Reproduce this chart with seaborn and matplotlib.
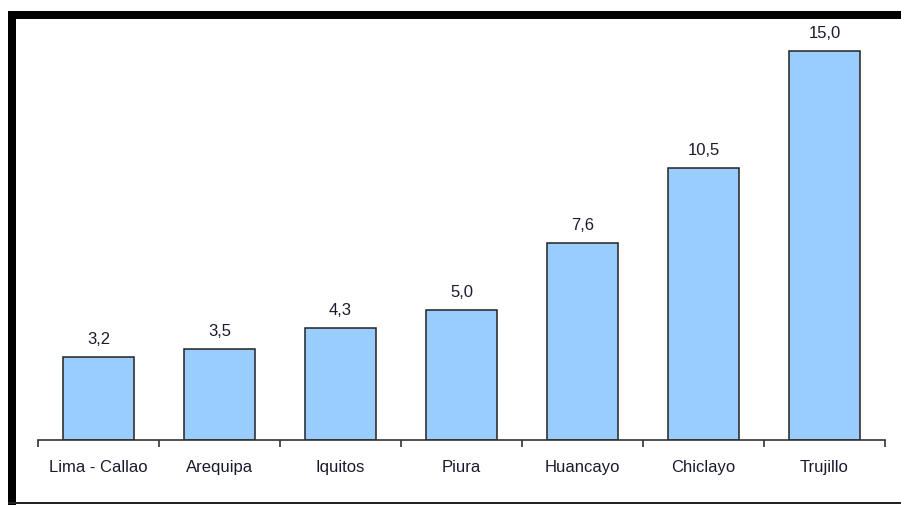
import matplotlib
matplotlib.use("Agg")
import matplotlib.pyplot as plt
from matplotlib.patches import Rectangle
from matplotlib.ticker import FixedLocator
import seaborn as sns
import pandas as pd

cities = ["Lima - Callao", "Arequipa", "Iquitos", "Piura", "Huancayo", "Chiclayo", "Trujillo"]
values = [3.2, 3.5, 4.3, 5.0, 7.6, 10.5, 15.0]

sns.set_theme(style="white")
plt.rcParams["font.family"] = ["Liberation Sans Narrow", "Liberation Sans", "DejaVu Sans"]

df = pd.DataFrame({"city": cities, "value": values})

fig = plt.figure(figsize=(9.01, 5.06), dpi=100)
fig.patch.set_facecolor("white")
ax = fig.add_axes([38 / 901, 65 / 506, (885 - 38) / 901, 415 / 506])

sns.barplot(data=df, x="city", y="value", color="#99CCFF", width=0.595,
            saturation=1, edgecolor="#222222", linewidth=1.1, ax=ax)

ax.set_xlim(-0.5, len(cities) - 0.5)
ax.set_ylim(0, 16)

# value labels above each bar
for i, v in enumerate(values):
    ax.annotate(f"{v:.1f}".replace(".", ","), (i, v), xytext=(0, 8),
                textcoords="offset points", ha="center", va="bottom",
                fontsize=12, color="#1a1a2e")

# tick marks at category boundaries, labels at category centres
ax.xaxis.set_major_locator(FixedLocator([i - 0.5 for i in range(len(cities) + 1)]))
ax.xaxis.set_minor_locator(FixedLocator(list(range(len(cities)))))
ax.set_xticklabels([])
ax.set_xticklabels(cities, minor=True)
ax.tick_params(axis="x", which="major", direction="out", length=5, width=1.2,
               color="#333333", bottom=True)
ax.tick_params(axis="x", which="minor", length=0, pad=14, labelsize=12,
               labelcolor="#1a1a2e")
ax.set_yticks([])
ax.set_xlabel("")
ax.set_ylabel("")
for side in ["top", "left", "right"]:
    ax.spines[side].set_visible(False)
ax.spines["bottom"].set_color("#333333")
ax.spines["bottom"].set_linewidth(1.2)
ax.set_facecolor("none")

# outer frame: heavy top and left rules, thin bottom rule
H = 506.0
W = 901.0
fig.add_artist(Rectangle((8 / W, (H - 20) / H), (W - 8) / W, 8 / H,
                         transform=fig.transFigure, color="black", lw=0))
fig.add_artist(Rectangle((8 / W, 0), 8 / W, (H - 12) / H,
                         transform=fig.transFigure, color="black", lw=0))
fig.add_artist(Rectangle((8 / W, 1 / H), (W - 8) / W, 2 / H,
                         transform=fig.transFigure, color="#222222", lw=0))

fig.savefig("out.png", dpi=100, facecolor="white")
